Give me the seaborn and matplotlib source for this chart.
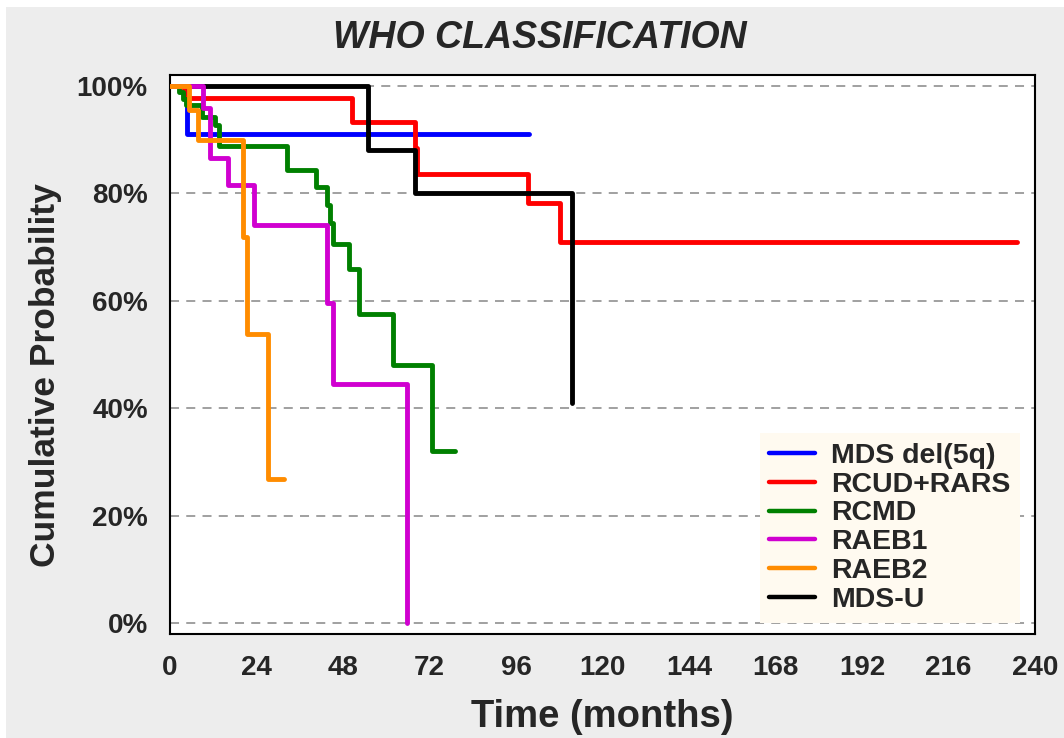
import matplotlib
matplotlib.use("Agg")
import matplotlib.pyplot as plt
import numpy as np
import pandas as pd
import seaborn as sns
from matplotlib.patches import Rectangle

# Kaplan-Meier step points (months, % surviving), last point = end of follow-up
groups = ["MDS del(5q)", "RCUD+RARS", "RCMD", "RAEB1", "RAEB2", "MDS-U"]
colors = ["#0000ff", "#ff0000", "#008000", "#d000d0", "#ff8c00", "#000000"]

del5q_t = [0, 4.7, 99.5]
del5q_s = [100, 91.0, 91.0]

rcud_t = [0, 4.0, 50.6, 67.9, 68.6, 99.2, 108.3, 235.0]
rcud_s = [100, 97.7, 93.3, 88.4, 83.6, 78.1, 70.9, 70.9]

rcmd_t = [0, 2.5, 3.5, 4.5, 9.0, 12.5, 13.5, 32.4, 40.5, 43.5, 44.4, 45.3, 49.8, 52.5, 61.9, 72.8, 79.0]
rcmd_s = [100, 98.8, 97.6, 96.4, 94.2, 92.7, 88.7, 84.4, 81.2, 77.8, 74.4, 70.6, 66.0, 57.5, 48.0, 32.0, 32.0]

raeb1_t = [0, 9.1, 11.2, 16.2, 23.4, 43.5, 45.3, 65.8]
raeb1_s = [100, 95.8, 86.5, 81.5, 74.1, 59.5, 44.5, 0.0]

raeb2_t = [0, 5.2, 7.9, 20.2, 21.3, 27.3, 31.5]
raeb2_s = [100, 95.5, 90.0, 71.9, 53.8, 26.8, 26.8]

mdsu_t = [0, 55.0, 67.9, 111.5]
mdsu_s = [100, 88.0, 80.1, 40.9]

series = {
    "MDS del(5q)": (del5q_t, del5q_s),
    "RCUD+RARS": (rcud_t, rcud_s),
    "RCMD": (rcmd_t, rcmd_s),
    "RAEB1": (raeb1_t, raeb1_s),
    "RAEB2": (raeb2_t, raeb2_s),
    "MDS-U": (mdsu_t, mdsu_s),
}
zorders = {"MDS del(5q)": 3, "RCUD+RARS": 4, "MDS-U": 5, "RCMD": 6, "RAEB1": 7, "RAEB2": 8}

x_ticks = list(range(0, 241, 24))
y_ticks = [0, 20, 40, 60, 80, 100]

sns.set_style("white")
plt.rcParams["font.family"] = ["Liberation Sans", "DejaVu Sans"]

fig = plt.figure(figsize=(10.64, 7.38), dpi=100)
fig.patch.set_facecolor("white")
fig.patches.append(Rectangle((6 / 1064, 0), 1, 1 - 7 / 738, transform=fig.transFigure,
                             facecolor="#ededed", edgecolor="none", zorder=-10))
ax = fig.add_axes([170 / 1064, 1 - 634 / 738, 865 / 1064, 559 / 738])
ax.set_facecolor("white")

for name, color in zip(groups, colors):
    t, s = series[name]
    df = pd.DataFrame({"time": t, "surv": s})
    sns.lineplot(data=df, x="time", y="surv", ax=ax, color=color, lw=3.5,
                 drawstyle="steps-post", estimator=None, sort=False,
                 label=name, zorder=zorders[name], solid_capstyle="round")

for y in y_ticks:
    ax.axhline(y, color="#999999", lw=1.3, ls=(0, (5, 4)), zorder=1)

ax.set_xlim(0, 240)
ax.set_ylim(-2, 102)
ax.set_xticks(x_ticks)
ax.set_xticklabels([str(v) for v in x_ticks], fontsize=20, fontweight="bold")
ax.set_yticks(y_ticks)
ax.set_yticklabels([f"{v}%" for v in y_ticks], fontsize=20, fontweight="bold")
ax.tick_params(axis="both", direction="out", length=8, width=1.5, color="black")
ax.tick_params(axis="y", pad=8)
ax.tick_params(axis="x", pad=7)
for sp in ax.spines.values():
    sp.set_color("black")
    sp.set_linewidth(1.5)

ax.set_xlabel("Time (months)", fontsize=27.5, fontweight="bold", labelpad=13)
ax.set_ylabel("Cumulative Probability", fontsize=25.5, fontweight="bold")
ax.yaxis.set_label_coords(-0.1249, 0.463)
fig.text(540 / 1064, 1 - 38 / 738, "WHO CLASSIFICATION", fontsize=27,
         fontweight="bold", fontstyle="italic", ha="center", va="center")

handles, labels = ax.get_legend_handles_labels()
leg = ax.legend(handles, labels, loc="lower right", bbox_to_anchor=(0.9827, 0.0197),
                borderaxespad=0, frameon=True, fancybox=False, prop={"size": 20.5, "weight": "bold"},
                handlelength=1.6, handletextpad=0.55, labelspacing=0.1, borderpad=0.35)
leg.get_frame().set_facecolor("#fffaf0")
leg.get_frame().set_edgecolor("none")
leg.get_frame().set_alpha(1)
for line in leg.get_lines():
    line.set_linewidth(3.2)

fig.savefig("out.png", dpi=100)
